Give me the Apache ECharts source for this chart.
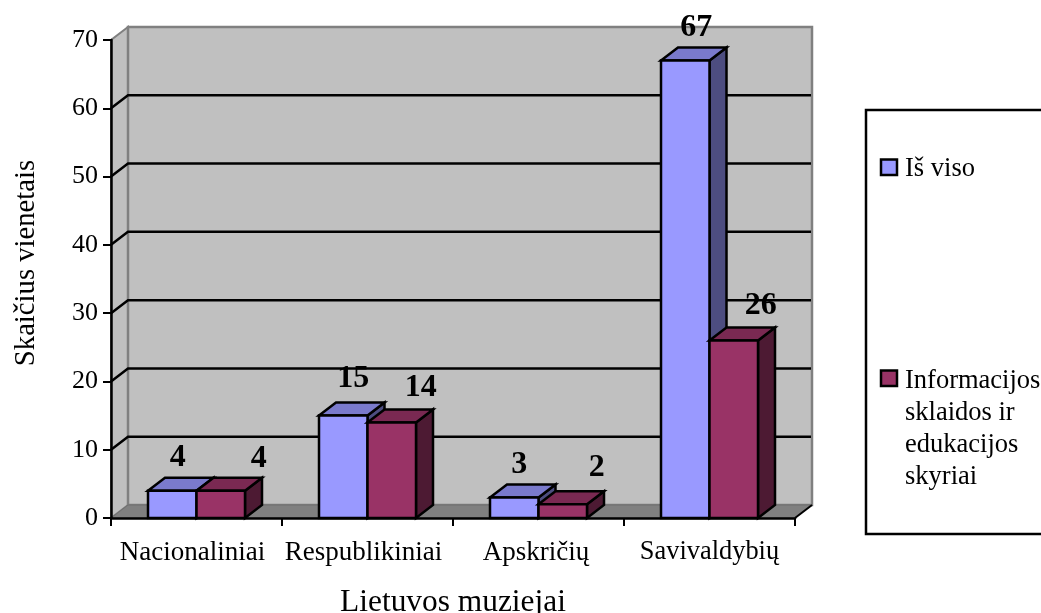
<!DOCTYPE html>
<html><head><meta charset="utf-8">
<style>html,body{margin:0;padding:0;background:#fff}#c{width:1041px;height:613px}</style>
<script src="https://cdn.jsdelivr.net/npm/echarts@6/dist/echarts.min.js"></script>
</head><body><div id="c"></div>
<script>
const categories = ['Nacionaliniai', 'Respublikiniai', 'Apskričių', 'Savivaldybių'];
const seriesNames = ['Iš viso', 'Informacijos sklaidos ir edukacijos skyriai'];
const isViso = [4, 15, 3, 67];
const informacijos = [4, 14, 2, 26];
const yTicks = [0, 10, 20, 30, 40, 50, 60, 70];

// styling
const DX = 17, DY = -13, BAR = 48.5;
const faces = [
  { front: '#9999ff', top: '#7a7acc', side: '#4d4d80' },
  { front: '#993366', top: '#7a2952', side: '#4d1a33' }
];
const labelNudge = [
  [[5.5, -33], [10, -37], [5, -33], [11, -33]],
  [[38, -32], [29, -35], [34, -37], [27, -35]]
];
const FONT = '"Liberation Serif","Times New Roman",serif';

function poly(points, fill, stroke, lw) {
  return { type: 'polygon', shape: { points }, style: { fill, stroke, lineWidth: lw, lineJoin: 'miter' } };
}
function wallRender(params, api) {
  const children = [];
  const yMin = yTicks[0], yMax = yTicks[yTicks.length - 1];
  const bl = api.coord([0, yMin]), tl = api.coord([0, yMax]);
  const cs = params.coordSys;
  const x0 = cs.x, x1 = cs.x + cs.width, yb = bl[1], yt = tl[1];
  children.push(poly([[x0, yb], [x0 + DX, yb + DY], [x0 + DX, yt + DY], [x0, yt]], '#c0c0c0', '#808080', 2));
  children.push(poly([[x0 + DX, yb + DY], [x1 + DX, yb + DY], [x1 + DX, yt + DY], [x0 + DX, yt + DY]], '#c0c0c0', '#808080', 2.5));
  children.push(poly([[x0, yb], [x1, yb], [x1 + DX, yb + DY], [x0 + DX, yb + DY]], '#808080', '#6e6e6e', 1));
  children.push({ type: 'line', shape: { x1: x1, y1: yb, x2: x1 + DX, y2: yb + DY }, style: { stroke: '#000', lineWidth: 2 } });
  yTicks.slice(1, -1).forEach(v => {
    const y = api.coord([0, v])[1];
    children.push({ type: 'polyline', shape: { points: [[x0, y], [x0 + DX, y + DY], [x1 + DX - 1, y + DY]] }, style: { stroke: '#000', lineWidth: 2.5, fill: 'none' } });
  });
  return { type: 'group', children };
}
function barRender(sIdx) {
  return function (params, api) {
    const cat = api.value(0), val = api.value(1);
    const base = api.coord([cat, 0]), top = api.coord([cat, val]);
    const f = faces[sIdx];
    const l = base[0] - BAR + sIdx * BAR, r = l + BAR, yb = base[1], yt = top[1];
    const n = labelNudge[sIdx][params.dataIndex];
    return { type: 'group', children: [
      poly([[r, yb], [r + DX, yb + DY], [r + DX, yt + DY], [r, yt]], f.side, '#000', 2.5),
      poly([[l, yt], [l + DX, yt + DY], [r + DX, yt + DY], [r, yt]], f.top, '#000', 2.5),
      poly([[l, yb], [r, yb], [r, yt], [l, yt]], f.front, '#000', 2.5),
      { type: 'text', z2: 50, style: { text: String(val), x: (l + r) / 2 + n[0], y: yt + n[1], fill: '#000',
        font: 'bold 32px ' + FONT, textAlign: 'center', textVerticalAlign: 'middle' } }
    ] };
  };
}
const toData = arr => arr.map((v, i) => [i, v]);
const chart = echarts.init(document.getElementById('c'), null, { renderer: 'canvas' });
const legendFont = '26.5px ' + FONT;
const tickRich = (pad, size) => ({ fontFamily: FONT, fontSize: size, color: '#000', padding: [0, pad, 0, 0] });
chart.setOption({
  animation: false,
  backgroundColor: '#fff',
  grid: { left: 111, right: 246, top: 40, bottom: 95, containLabel: false, outerBoundsMode: 'none' },
  xAxis: {
    type: 'category', data: categories, z: 10,
    name: 'Lietuvos muziejai', nameLocation: 'middle', nameGap: 69,
    nameTextStyle: { color: '#000', fontFamily: FONT, fontSize: 31.4 },
    axisLine: { lineStyle: { color: '#000', width: 2.5 } },
    axisTick: { show: true, length: 8, lineStyle: { color: '#000', width: 2 } },
    axisLabel: {
      color: '#000', fontFamily: FONT, fontSize: 27, margin: 21, interval: 0,
      formatter: v => v === 'Apskričių' ? '{c|' + v + '}' : v === 'Savivaldybių' ? '{d|' + v + '}' : '{a|' + v + '}',
      rich: { a: tickRich(8, 27), c: tickRich(5, 27), d: tickRich(0, 26.4) }
    }
  },
  yAxis: {
    type: 'value', min: 0, max: 70, interval: 10, z: 10,
    name: 'Skaičius vienetais', nameLocation: 'middle', nameRotate: 90, nameGap: 70,
    nameTextStyle: { color: '#000', fontFamily: FONT, fontSize: 28.7, padding: [0, 0, 0, 32] },
    axisLine: { show: true, lineStyle: { color: '#000', width: 2.5 } },
    axisTick: { show: true, length: 8, lineStyle: { color: '#000', width: 2 } },
    axisLabel: { color: '#000', fontFamily: FONT, fontSize: 26, margin: 13 },
    splitLine: { show: false }
  },
  series: [
    { type: 'custom', name: 'walls', silent: true, z: 1, data: [[0, 0]], encode: { x: 0, y: 1 }, renderItem: wallRender },
    { type: 'custom', name: seriesNames[0], z: 3, data: toData(isViso), encode: { x: 0, y: 1 }, renderItem: barRender(0) },
    { type: 'custom', name: seriesNames[1], z: 4, data: toData(informacijos), encode: { x: 0, y: 1 }, renderItem: barRender(1) }
  ],
  graphic: [
    { type: 'rect', shape: { x: 866, y: 110, width: 190, height: 424 }, style: { fill: '#fff', stroke: '#000', lineWidth: 2.5 } },
    { type: 'rect', shape: { x: 881, y: 159.5, width: 16, height: 15.5 }, style: { fill: faces[0].front, stroke: '#000', lineWidth: 2.5 } },
    { type: 'text', x: 905, y: 169, style: { text: seriesNames[0], font: legendFont, fill: '#000', textVerticalAlign: 'middle' } },
    { type: 'rect', shape: { x: 881, y: 370.5, width: 16, height: 15.5 }, style: { fill: faces[1].front, stroke: '#000', lineWidth: 2.5 } },
    { type: 'text', x: 905, y: 365, style: { text: 'Informacijos\nsklaidos ir\nedukacijos\nskyriai', font: legendFont, lineHeight: 32, fill: '#000', textVerticalAlign: 'top' } }
  ]
});
</script></body></html>
